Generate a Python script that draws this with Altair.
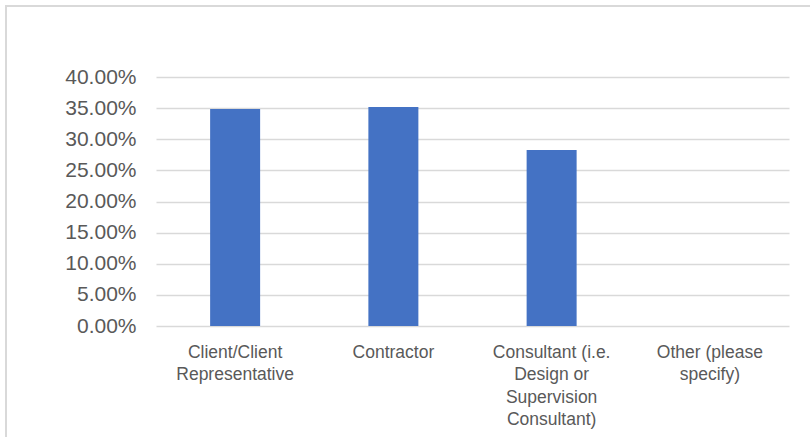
import altair as alt
import pandas as pd

categories = [
    "Client/Client\nRepresentative",
    "Contractor",
    "Consultant (i.e.\nDesign or\nSupervision\nConsultant)",
    "Other (please\nspecify)",
]
values = [0.3485, 0.352, 0.2826, 0.0]
y_ticks = [0, 0.05, 0.10, 0.15, 0.20, 0.25, 0.30, 0.35, 0.40]

df = pd.DataFrame({"category": categories, "value": values})

bars = alt.Chart(df).mark_bar(size=50, color="#4472C4").encode(
    x=alt.X(
        "category:N",
        sort=categories,
        scale=alt.Scale(paddingInner=0, paddingOuter=0),
        axis=alt.Axis(
            title=None,
            labelAngle=0,
            labelExpr="split(datum.label, '\\n')",
            labelFont="Liberation Sans",
            labelFontSize=17.5,
            labelColor="#595959",
            labelLineHeight=22.5,
            labelPadding=17,
            labelBaseline="top",
            domain=False,
            ticks=False,
            grid=False,
        ),
    ),
    y=alt.Y(
        "value:Q",
        scale=alt.Scale(domain=[0, 0.4], nice=False),
        axis=alt.Axis(
            title=None,
            values=y_ticks,
            format=".2%",
            labelFont="Liberation Sans",
            labelFontSize=21,
            labelColor="#595959",
            labelPadding=20,
            domain=False,
            ticks=False,
            grid=True,
            gridColor="#D9D9D9",
            gridWidth=1.5,
        ),
    ),
)

border = alt.Chart(df).mark_rect(
    fill=None, stroke="#D9D9D9", strokeWidth=2, clip=False
).encode(
    x=alt.value(-150),
    x2=alt.value(900),
    y=alt.value(-71),
    y2=alt.value(500),
)

chart = alt.layer(border, bars).properties(
    width=633,
    height=249,
    padding={"left": 156, "top": 77, "right": 21, "bottom": 111},
    autosize=alt.AutoSizeParams(type="none"),
    background="white",
).configure_view(stroke=None)

chart.save("out.html", embed_options={"renderer": "svg", "actions": False})
